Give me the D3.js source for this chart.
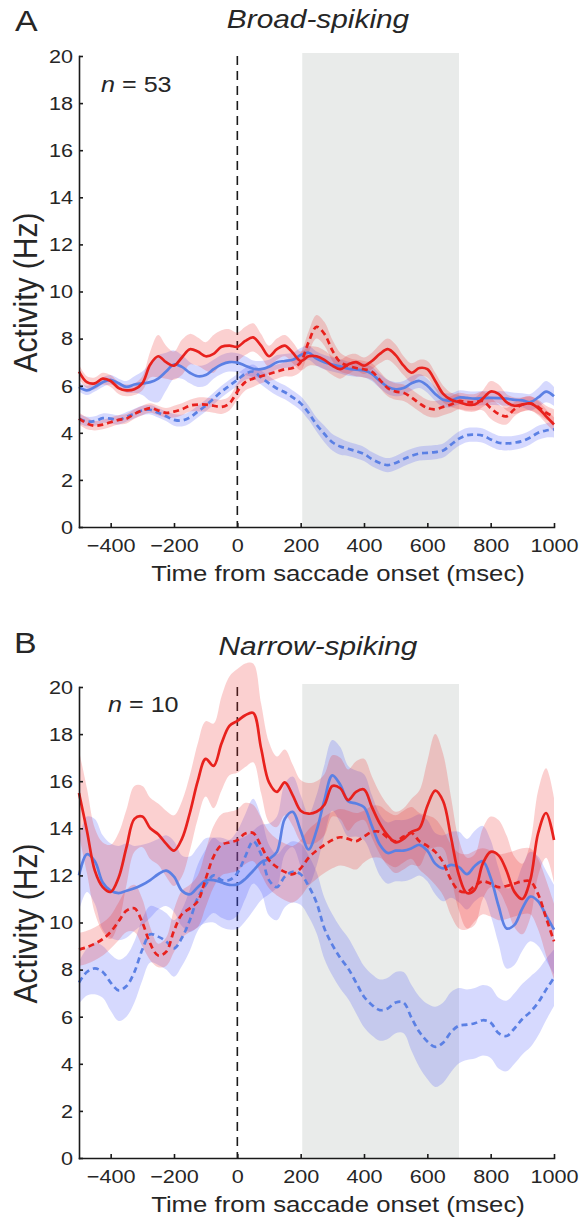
<!DOCTYPE html>
<html>
<head>
<meta charset="utf-8">
<script src="https://cdn.jsdelivr.net/npm/d3@7"></script>
<style>
  body { margin: 0; background: #fff; }
  svg { display: block; font-family: "Liberation Sans", Arial, Helvetica, sans-serif; }
</style>
</head>
<body>
<div id="chart"></div>
<script>
// time bins (ms from saccade onset)
const timeMs = [-500, -475, -450, -425, -400, -375, -350, -325, -300,
  -275, -250, -225, -200, -175, -150, -125, -100, -75, -50, -25,
  0, 25, 50, 75, 100, 125, 150, 175, 200,
  225, 250, 275, 300, 325, 350, 375, 400, 425, 450, 475, 500,
  525, 550, 575, 600, 625, 650, 675, 700, 725, 750, 775, 800, 825, 850, 875, 900, 925, 950, 975, 1000];

// A: broad-spiking, mean firing rate (Hz)
const broadRedSolid = [6.6, 6.15, 6.1, 6.3, 6.2, 5.9, 5.8, 5.85, 6.1,
  6.9, 7.25, 7.0, 6.85, 7.2, 7.55, 7.45, 7.25, 7.35, 7.65, 7.7,
  7.65, 7.9, 8.05, 7.7, 7.25, 7.55, 7.7, 7.4, 7.05,
  7.25, 7.25, 7.1, 6.85, 6.7, 6.9, 7.0, 6.85, 7.05, 7.35, 7.55, 7.3,
  6.85, 6.55, 6.75, 6.7, 6.2, 5.65, 5.4, 5.3, 5.2, 5.2, 5.45, 5.75, 5.65, 5.3, 5.15, 5.2, 5.25, 5.05, 4.7, 4.35];
const broadRedDashed = [4.6, 4.4, 4.3, 4.35, 4.45, 4.55, 4.6, 4.8, 4.95,
  5.05, 4.95, 4.85, 4.9, 5.0, 5.15, 5.2, 5.2, 5.15, 5.1, 5.25,
  5.75, 6.15, 6.3, 6.4, 6.5, 6.6, 6.7, 6.75, 7.0,
  7.85, 8.5, 8.2, 7.5, 7.0, 6.85, 6.75, 6.7, 6.6, 6.25, 5.9, 5.75,
  5.7, 5.5, 5.25, 5.05, 5.0, 5.1, 5.2, 5.35, 5.3, 5.3, 5.35, 5.05, 4.8, 4.7, 5.0, 5.2, 5.25, 5.1, 4.85, 4.7];
const broadBlueSolid = [5.95, 5.8, 5.95, 6.15, 6.25, 6.1, 5.95, 6.05, 6.1,
  6.15, 6.3, 6.6, 6.9, 6.8, 6.55, 6.4, 6.45, 6.7, 6.9, 7.0,
  6.98, 6.85, 6.72, 6.7, 6.8, 7.0, 7.05, 7.1, 7.3,
  7.4, 7.15, 7.0, 6.9, 6.82, 6.72, 6.68, 6.65, 6.5, 6.2, 5.95, 5.85,
  5.9, 6.1, 6.2, 6.0, 5.65, 5.4, 5.38, 5.5, 5.48, 5.45, 5.47, 5.48, 5.47, 5.45, 5.4, 5.38, 5.3, 5.5, 5.75, 5.55];
const broadBlueDashed = [4.6, 4.48, 4.5, 4.62, 4.6, 4.55, 4.68, 4.82, 4.95,
  4.98, 4.85, 4.7, 4.55, 4.52, 4.65, 4.9, 5.15, 5.45, 5.75, 6.0,
  6.25, 6.5, 6.6, 6.35, 6.1, 5.88, 5.72, 5.5, 5.25,
  4.85, 4.35, 3.95, 3.6, 3.42, 3.32, 3.22, 3.1, 2.88, 2.72, 2.63, 2.72,
  2.88, 3.02, 3.12, 3.15, 3.18, 3.25, 3.5, 3.75, 3.9, 3.92, 3.88, 3.72, 3.58, 3.55, 3.58, 3.65, 3.8, 4.0, 4.1, 4.15];

// A: standard errors (Hz)
const broadRedSolidSE = [0.3, 0.25, 0.25, 0.25, 0.25, 0.25, 0.25, 0.25, 0.3,
  0.55, 0.9, 0.7, 0.6, 0.75, 0.65, 0.6, 0.6, 0.8, 0.7, 0.7,
  0.6, 0.6, 0.6, 0.5, 0.45, 0.45, 0.45, 0.45, 0.4,
  0.4, 0.4, 0.4, 0.4, 0.4, 0.4, 0.35, 0.35, 0.35, 0.4, 0.45, 0.45,
  0.4, 0.4, 0.35, 0.35, 0.35, 0.35, 0.3, 0.3, 0.3, 0.3, 0.35, 0.45, 0.4, 0.35, 0.35, 0.3, 0.3, 0.3, 0.3, 0.3];
const broadRedDashedSE = [0.25, 0.25, 0.2, 0.2, 0.2, 0.2, 0.2, 0.2, 0.2,
  0.2, 0.2, 0.2, 0.25, 0.25, 0.25, 0.3, 0.3, 0.3, 0.3, 0.3,
  0.35, 0.35, 0.35, 0.3, 0.3, 0.3, 0.3, 0.35, 0.4,
  0.45, 0.5, 0.5, 0.45, 0.4, 0.35, 0.35, 0.35, 0.35, 0.35, 0.35, 0.35,
  0.35, 0.35, 0.35, 0.35, 0.35, 0.35, 0.35, 0.35, 0.35, 0.35, 0.4, 0.45, 0.4, 0.35, 0.3, 0.3, 0.3, 0.3, 0.3, 0.3];
const broadBlueSolidSE = [0.2, 0.2, 0.2, 0.2, 0.2, 0.2, 0.25, 0.35, 0.5,
  0.8, 1.0, 0.8, 0.6, 0.5, 0.45, 0.45, 0.45, 0.4, 0.4, 0.4,
  0.4, 0.4, 0.35, 0.35, 0.3, 0.3, 0.3, 0.3, 0.3,
  0.3, 0.3, 0.3, 0.3, 0.3, 0.3, 0.3, 0.3, 0.3, 0.3, 0.3, 0.3,
  0.3, 0.3, 0.3, 0.3, 0.3, 0.3, 0.3, 0.3, 0.3, 0.3, 0.3, 0.3, 0.3, 0.3, 0.3, 0.3, 0.35, 0.4, 0.45, 0.4];
const broadBlueDashedSE = [0.2, 0.2, 0.2, 0.2, 0.2, 0.2, 0.2, 0.2, 0.2,
  0.2, 0.2, 0.2, 0.25, 0.25, 0.25, 0.25, 0.25, 0.25, 0.25, 0.25,
  0.25, 0.25, 0.3, 0.3, 0.3, 0.3, 0.3, 0.3, 0.3,
  0.3, 0.3, 0.35, 0.35, 0.35, 0.3, 0.3, 0.3, 0.3, 0.3, 0.3, 0.3,
  0.3, 0.3, 0.3, 0.3, 0.3, 0.3, 0.3, 0.3, 0.3, 0.3, 0.3, 0.3, 0.3, 0.3, 0.3, 0.3, 0.3, 0.3, 0.3, 0.35];

// B: narrow-spiking, mean firing rate (Hz)
const narrowRedSolid = [15.5, 13.9, 12.2, 11.5, 11.3, 11.9, 13.2, 14.4, 14.5,
  14.0, 13.75, 13.35, 13.05, 13.55, 14.65, 16.0, 16.95, 16.65, 17.6, 18.35,
  18.56, 18.8, 18.9, 17.4, 15.95, 15.55, 15.95, 15.4, 14.75,
  14.62, 14.7, 15.0, 15.8, 15.7, 15.2, 15.55, 15.65, 14.9, 14.2, 13.7, 13.4,
  13.55, 13.85, 14.0, 14.95, 15.6, 15.15, 13.6, 12.0, 11.25, 11.4, 12.5, 13.0, 12.85, 12.2, 11.3, 11.0, 11.8, 13.8, 14.65, 13.5];
const narrowRedDashed = [8.85, 8.95, 9.1, 9.3, 9.6, 10.05, 10.5, 10.6, 10.0,
  9.1, 8.6, 8.75, 9.65, 10.35, 10.6, 10.9, 11.85, 12.8, 13.3, 13.4,
  13.5, 13.78, 13.8, 13.25, 12.65, 12.35, 12.15, 12.05, 12.3,
  12.75, 13.05, 13.3, 13.5, 13.62, 13.55, 13.45, 13.65, 13.85, 13.85, 13.6, 13.45,
  13.65, 13.8, 13.45, 13.25, 13.0, 12.55, 11.8, 11.35, 11.3, 11.55, 11.75, 11.65, 11.5, 11.55, 11.65, 11.75, 11.75, 11.2, 10.2, 9.2];
const narrowBlueSolid = [12.0, 12.9, 12.6, 11.7, 11.35, 11.25, 11.35, 11.45, 11.6,
  11.8, 12.05, 12.2, 11.95, 11.35, 11.2, 11.5, 11.78, 11.8, 11.7, 11.6,
  11.62, 11.85, 12.2, 12.55, 12.7, 13.0, 14.4, 14.7, 13.9,
  13.1, 13.9, 15.2, 16.25, 15.85, 15.15, 15.05, 14.9, 14.1, 13.3, 12.95, 13.05,
  13.05, 13.15, 13.3, 13.05, 12.5, 12.3, 12.45, 12.35, 12.05, 12.4, 12.6, 11.9, 10.7, 9.75, 9.9, 10.6, 11.1, 10.9, 10.3, 9.7];
const narrowBlueDashed = [7.45, 7.9, 8.05, 7.9, 7.45, 7.12, 7.3, 7.9, 8.85,
  9.5, 9.4, 9.2, 8.9, 9.35, 10.1, 11.05, 11.6, 12.0, 11.8, 11.8,
  12.1, 12.8, 13.45, 12.9, 11.8, 11.5, 11.95, 12.15, 12.05,
  11.55, 10.85, 9.75, 9.05, 8.5, 8.05, 7.45, 6.85, 6.5, 6.28, 6.35, 6.6,
  6.6, 5.95, 5.35, 4.95, 4.72, 4.9, 5.35, 5.62, 5.66, 5.72, 5.85, 5.75, 5.3, 5.18, 5.5, 5.9, 6.2, 6.6, 7.15, 7.65];

// B: standard errors (Hz)
const narrowRedSolidSE = [1.8, 1.8, 1.8, 1.9, 2.0, 1.9, 1.6, 1.4, 1.3,
  1.3, 1.3, 1.4, 1.5, 1.6, 1.6, 1.6, 1.6, 1.8, 2.0, 2.1,
  2.2, 2.2, 2.1, 1.9, 1.7, 1.5, 1.4, 1.3, 1.3,
  1.3, 1.3, 1.3, 1.3, 1.3, 1.3, 1.3, 1.3, 1.3, 1.3, 1.3, 1.3,
  1.3, 1.4, 1.6, 1.9, 2.4, 2.0, 1.7, 1.5, 1.5, 1.5, 1.5, 1.5, 1.5, 1.5, 1.5, 1.5, 1.6, 1.8, 1.9, 1.8];
const narrowRedDashedSE = [0.7, 0.7, 0.7, 0.7, 0.7, 0.8, 0.9, 1.0, 1.0,
  0.7, 0.5, 0.6, 0.9, 1.0, 1.0, 1.1, 1.2, 1.3, 1.3, 1.3,
  1.3, 1.3, 1.2, 1.2, 1.2, 1.2, 1.2, 1.2, 1.2,
  1.2, 1.2, 1.2, 1.2, 1.2, 1.2, 1.2, 1.1, 1.1, 1.1, 1.1, 1.1,
  1.1, 1.1, 1.2, 1.3, 1.4, 1.4, 1.5, 1.6, 1.6, 1.5, 1.4, 1.4, 1.4, 1.4, 1.4, 1.4, 1.4, 1.5, 1.6, 1.6];
const narrowBlueSolidSE = [1.5, 1.6, 1.8, 2.0, 2.0, 2.0, 2.0, 1.8, 1.7,
  1.6, 1.5, 1.5, 1.5, 1.5, 1.6, 1.7, 1.8, 1.8, 1.9, 1.9,
  1.9, 1.8, 1.7, 1.6, 1.5, 1.5, 1.5, 1.5, 1.5,
  1.5, 1.5, 1.5, 1.5, 1.6, 1.5, 1.4, 1.4, 1.3, 1.3, 1.3, 1.3,
  1.3, 1.3, 1.3, 1.3, 1.3, 1.4, 1.4, 1.5, 1.5, 1.5, 1.5, 1.6, 1.6, 1.7, 1.7, 1.8, 1.9, 1.9, 1.9, 1.9];
const narrowBlueDashedSE = [0.9, 1.0, 1.1, 1.1, 1.2, 1.3, 1.3, 1.3, 1.3,
  1.2, 1.2, 1.2, 1.2, 1.2, 1.3, 1.4, 1.5, 1.6, 1.6, 1.7,
  1.8, 1.8, 1.8, 1.6, 1.5, 1.4, 1.3, 1.3, 1.3,
  1.3, 1.3, 1.3, 1.3, 1.3, 1.3, 1.3, 1.3, 1.3, 1.3, 1.3, 1.3,
  1.3, 1.4, 1.5, 1.6, 1.7, 1.7, 1.7, 1.6, 1.5, 1.5, 1.5, 1.5, 1.5, 1.5, 1.5, 1.5, 1.5, 1.4, 1.3, 1.2];

const yTicks = [0, 2, 4, 6, 8, 10, 12, 14, 16, 18, 20];
const xTicks = [-400, -200, 0, 200, 400, 600, 800, 1000];
const shadeWindow = [205, 700];

const width = 580;
const height = 1220;
const cl_red = "#e8211d";
const cl_blue = "#5b80e4";
const cl_text = "#262626";
const stretch = 1.17; // the figure's lettering is drawn wide

const svg = d3.select("#chart")
  .append("svg")
  .attr("width", width)
  .attr("height", height);

const x = d3.scaleLinear().domain([-500, 1000]).range([79, 554]);

function addText(g, px, py, str, size, anchor, italic) {
  return g.append("text")
    .attr("transform", `translate(${px},${py}) scale(${stretch},1)`)
    .attr("text-anchor", anchor)
    .attr("font-size", size)
    .attr("font-style", italic ? "italic" : null)
    .attr("fill", cl_text)
    .text(str);
}

function drawPanel(p) {
  const g = svg.append("g");
  const y = d3.scaleLinear().domain([0, 20]).range([p.bottom, p.top]);

  // analysis window
  g.append("rect")
    .attr("x", x(shadeWindow[0]))
    .attr("y", p.top - 3)
    .attr("width", x(shadeWindow[1]) - x(shadeWindow[0]))
    .attr("height", p.bottom - p.top + 3)
    .attr("fill", "#e9ebea");

  // saccade onset
  g.append("line")
    .attr("x1", x(0)).attr("x2", x(0))
    .attr("y1", y(20)).attr("y2", y(0))
    .attr("stroke", "#1a1a1a")
    .attr("stroke-width", 1.6)
    .attr("stroke-dasharray", "9,6");

  const series = [
    {mean: p.blueDashed, se: p.blueDashedSE, color: cl_blue, fill: "rgb(70,80,250)", dash: "6,4"},
    {mean: p.blueSolid, se: p.blueSolidSE, color: cl_blue, fill: "rgb(70,80,250)", dash: null},
    {mean: p.redDashed, se: p.redDashedSE, color: cl_red, fill: "rgb(235,40,40)", dash: "6,4"},
    {mean: p.redSolid, se: p.redSolidSE, color: cl_red, fill: "rgb(235,40,40)", dash: null}
  ];

  const band = d3.area()
    .x((d, i) => x(timeMs[i]))
    .curve(d3.curveCatmullRom);
  const line = d3.line()
    .x((d, i) => x(timeMs[i]))
    .y(d => y(d))
    .curve(d3.curveCatmullRom);

  series.forEach(s => {
    g.append("path")
      .datum(s.mean)
      .attr("d", band.y0((d, i) => y(d - s.se[i])).y1((d, i) => y(d + s.se[i])))
      .attr("fill", s.fill)
      .attr("fill-opacity", 0.22);
  });

  series.forEach(s => {
    g.append("path")
      .datum(s.mean)
      .attr("d", line)
      .attr("fill", "none")
      .attr("stroke", s.color)
      .attr("stroke-width", 2.7)
      .attr("stroke-dasharray", s.dash);
  });

  // axes, ticks pointing inward
  const yAxis = g.append("g")
    .attr("transform", `translate(${x(-500)},0)`)
    .call(d3.axisLeft(y).tickValues(yTicks).tickSize(-4).tickSizeOuter(0).tickPadding(5));
  const xAxis = g.append("g")
    .attr("transform", `translate(0,${p.bottom})`)
    .call(d3.axisBottom(x).tickValues(xTicks).tickFormat(d3.format("d")).tickSize(-4).tickSizeOuter(0));

  [yAxis, xAxis].forEach(a => {
    a.selectAll("path, line").attr("stroke", "#1a1a1a").attr("stroke-width", 1.6);
    a.selectAll("text")
      .attr("font-size", 18.5)
      .attr("fill", cl_text)
      .attr("transform", `scale(${stretch},1)`);
  });
  a_fix(xAxis, yAxis);

  addText(g, p.letterX, p.letterY, p.letter, 29, "start", false);
  addText(g, 318, p.titleY, p.title, 25.5, "middle", true);

  const nText = addText(g, p.nX, p.nY, "", 21.5, "start", false);
  nText.append("tspan").attr("font-style", "italic").text("n");
  nText.append("tspan").text(" = " + p.n);

  addText(g, 338, p.bottom + 54, "Time from saccade onset (msec)", 22, "middle", false);

  g.append("text")
    .attr("transform", `translate(37,${(p.top + p.bottom) / 2 + 1}) scale(1.1,1) rotate(-90)`)
    .attr("text-anchor", "middle")
    .attr("font-size", 30)
    .attr("fill", cl_text)
    .text("Activity (Hz)");
}

function a_fix(xAxis, yAxis) {
  xAxis.selectAll("text").attr("y", 25).attr("dy", null);
  yAxis.selectAll("text").attr("dy", "0.34em");
  svg.selectAll(".domain").attr("stroke-linecap", "square");
}

drawPanel({
  top: 56, bottom: 527,
  letter: "A", letterX: 15, letterY: 31,
  title: "Broad-spiking", titleY: 28,
  n: 53, nX: 101, nY: 92,
  redSolid: broadRedSolid, redSolidSE: broadRedSolidSE,
  redDashed: broadRedDashed, redDashedSE: broadRedDashedSE,
  blueSolid: broadBlueSolid, blueSolidSE: broadBlueSolidSE,
  blueDashed: broadBlueDashed, blueDashedSE: broadBlueDashedSE
});

drawPanel({
  top: 687, bottom: 1158,
  letter: "B", letterX: 14, letterY: 653,
  title: "Narrow-spiking", titleY: 655,
  n: 10, nX: 108, nY: 712,
  redSolid: narrowRedSolid, redSolidSE: narrowRedSolidSE,
  redDashed: narrowRedDashed, redDashedSE: narrowRedDashedSE,
  blueSolid: narrowBlueSolid, blueSolidSE: narrowBlueSolidSE,
  blueDashed: narrowBlueDashed, blueDashedSE: narrowBlueDashedSE
});
</script>
</body>
</html>
